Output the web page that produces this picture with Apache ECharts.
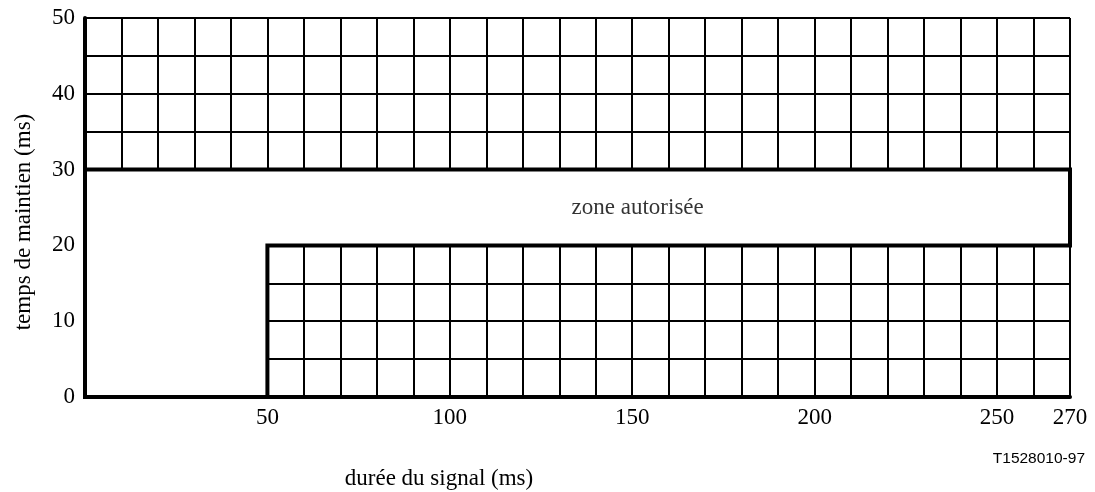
<!DOCTYPE html>
<html>
<head>
  <meta charset="utf-8">
  <title>zone autorisée</title>
  <style>
    html, body { margin: 0; padding: 0; background: #fff; }
    #main { width: 1095px; height: 492px; }
  </style>
</head>
<body>
  <div id="main"></div>
  <script src="https://cdn.jsdelivr.net/npm/echarts@6/dist/echarts.min.js"></script>
  <script>
  // axes
  const xMax = 270;
  const yMax = 50;
  const xLabels = [50, 100, 150, 200, 250, 270];
  const yLabels = [0, 10, 20, 30, 40, 50];

  // contour de la zone autorisée (durée, temps)
  const zonePoints = [[0, 0], [50, 0], [50, 20], [270, 20], [270, 30], [0, 30]];
  const zoneText = [[151.5, 25, 'zone autorisée']];

  const serif = '"Liberation Serif", "Times New Roman", serif';

  const option = {
    animation: false,
    grid: { left: 85, right: 25, top: 18, bottom: 95 },
    xAxis: [
      {
        type: 'value', min: 0, max: xMax, interval: 10, position: 'bottom',
        axisLine: { show: true, onZero: false, lineStyle: { color: '#000', width: 2 } },
        axisTick: { show: false },
        splitLine: { show: true, lineStyle: { color: '#000', width: 2 } },
        axisLabel: {
          margin: 9, color: '#000', fontFamily: serif, fontSize: 23,
          formatter: v => xLabels.includes(v) ? String(v) : ''
        }
      },
      {
        type: 'value', min: 0, max: xMax, position: 'top',
        axisLine: { show: true, lineStyle: { color: '#000', width: 4 } },
        axisTick: { show: false }, axisLabel: { show: false }, splitLine: { show: false }
      }
    ],
    yAxis: [
      {
        type: 'value', min: 0, max: yMax, interval: 5, position: 'left',
        axisLine: { show: true, lineStyle: { color: '#000', width: 4 } },
        axisTick: { show: false },
        splitLine: { show: true, lineStyle: { color: '#000', width: 2 } },
        axisLabel: {
          margin: 10, color: '#000', fontFamily: serif, fontSize: 23,
          formatter: v => yLabels.includes(v) ? String(v) : ''
        }
      },
      {
        type: 'value', min: 0, max: yMax, position: 'right',
        axisLine: { show: true, lineStyle: { color: '#000', width: 2 } },
        axisTick: { show: false }, axisLabel: { show: false }, splitLine: { show: false }
      }
    ],
    graphic: [
      {
        type: 'text', x: 24, y: 222, rotation: Math.PI / 2,
        style: {
          text: 'temps de maintien (ms)', fill: '#000', font: '23px ' + serif,
          align: 'center', verticalAlign: 'middle'
        }
      },
      {
        type: 'text', x: 439, y: 479,
        style: {
          text: 'durée du signal (ms)', fill: '#000', font: '23px ' + serif,
          align: 'center', verticalAlign: 'middle'
        }
      },
      {
        type: 'text', x: 1085, y: 459,
        style: {
          text: 'T1528010-97', fill: '#000', font: '15.5px "Liberation Sans", Arial, sans-serif',
          align: 'right', verticalAlign: 'middle'
        }
      }
    ],
    series: [
      {
        type: 'custom',
        data: [[0, 0]],
        z: 5,
        renderItem: function (params, api) {
          return {
            type: 'polygon',
            shape: { points: zonePoints.map(p => api.coord(p)) },
            style: { fill: '#fff', stroke: '#000', lineWidth: 4, lineJoin: 'miter' }
          };
        }
      },
      {
        type: 'scatter',
        data: zoneText,
        symbolSize: 0,
        z: 6,
        label: {
          show: true, position: 'inside', color: '#000', fontFamily: serif, fontSize: 23,
          formatter: p => p.data[2]
        }
      }
    ]
  };

  echarts.init(document.getElementById('main')).setOption(option);
  </script>
</body>
</html>
